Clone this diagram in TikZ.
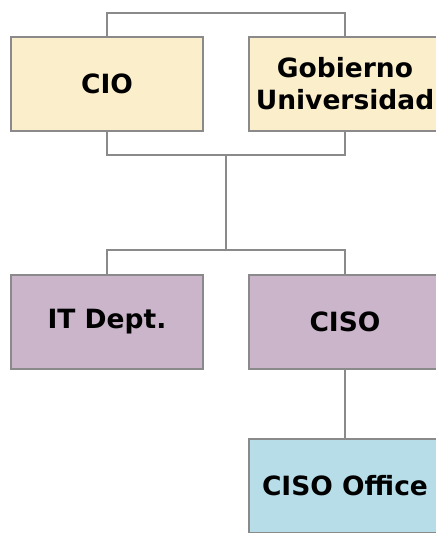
\documentclass[tikz,border=0pt]{standalone}
\usepackage{fontspec}
\setmainfont{DejaVu Sans}
\definecolor{linegray}{HTML}{8A8A8A}
\definecolor{yel}{HTML}{FBEECA}
\definecolor{pur}{HTML}{CBB5CB}
\definecolor{blu}{HTML}{B7DDE8}
\begin{document}
\begin{tikzpicture}[x=1pt,y=-1pt,
  box/.style={draw=linegray, line width=1.6pt, minimum width=192pt, minimum height=94pt,
    inner sep=0pt, align=center, font=\fontsize{26.5}{32}\selectfont\bfseries},
  conn/.style={draw=linegray, line width=1.6pt}]
\useasboundingbox (0,0) rectangle (436,533);
\clip (0,0) rectangle (436,533);
\node[box, fill=yel] (cio) at (107,84) {CIO};
\node[box, fill=yel] (gob) at (345,84) {Gobierno\\Universidad};
\node[box, fill=pur] (it) at (107,322) {IT Dept.};
\node[box, fill=pur] (ciso) at (345,322) {CISO};
\node[box, fill=blu] (office) at (345,486) {CISO Office};
\coordinate (j1) at (226,155);
\coordinate (j2) at (226,250);
\draw[conn] (cio.north) -- ++(0,-23) -| (gob.north);
\draw[conn] (cio.south) |- (j1) -| (gob.south);
\draw[conn] (j1) -- (j2);
\draw[conn] (it.north) |- (j2) -| (ciso.north);
\draw[conn] (ciso.south) -- (office.north);
\end{tikzpicture}
\end{document}
